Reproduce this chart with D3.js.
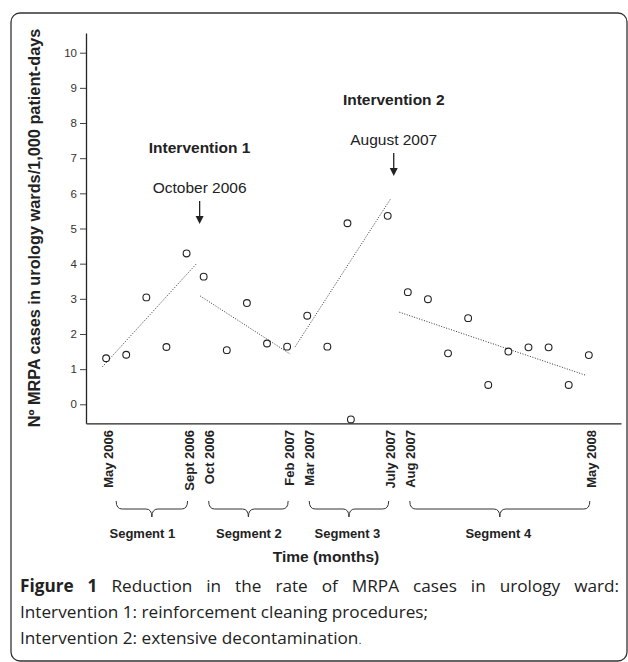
<!DOCTYPE html>
<html>
<head>
<meta charset="utf-8">
<script src="https://cdn.jsdelivr.net/npm/d3@7"></script>
<style>
  body { margin: 0; background: #fff; }
  svg { display: block; }
</style>
</head>
<body>
<svg width="628" height="662"></svg>
<script>
// month index from May 2006 (0) and MRPA rate per 1,000 patient-days
const months = [0, 1, 2, 3, 4, 4.85, 6, 7, 8, 9, 10, 11, 12, 12.17, 14, 15, 16, 17, 18, 19, 20, 21, 22, 23, 24];
const rates = [1.31, 1.41, 3.04, 1.63, 4.29, 3.63, 1.54, 2.88, 1.73, 1.64, 2.52, 1.64, 5.15, -0.43, 5.36,
               3.19, 2.99, 1.45, 2.45, 0.55, 1.50, 1.62, 1.62, 0.55, 1.40];

const yTicks = [0, 1, 2, 3, 4, 5, 6, 7, 8, 9, 10];

const dateLabels = ['May 2006', 'Sept 2006', 'Oct 2006', 'Feb 2007', 'Mar 2007', 'July 2007', 'Aug 2007', 'May 2008'];
const dateIdx = [0, 4, 5, 9, 10, 14, 15, 24];

const segNames = ['Segment 1', 'Segment 2', 'Segment 3', 'Segment 4'];
const segStart = [0.4, 5, 10, 15];
const segEnd = [4, 9, 14, 24];

// fitted trend per segment: [x1, y1, x2, y2]
const trends = [
  [-0.18, 1.07, 4.51, 4.01],
  [4.68, 3.08, 9.15, 1.43],
  [9.4, 1.64, 14.13, 5.83],
  [14.58, 2.62, 23.83, 0.83]
];

const interventions = ['Intervention 1', 'Intervention 2'];
const interventionDates = ['October 2006', 'August 2007'];
const interventionIdx = [4.65, 14.3];

var svg = d3.select('svg');
const ink = '#222';
const chartFont = 'Liberation Sans, Arial, sans-serif';

svg.append('rect')
  .attr('x', 11).attr('y', 13)
  .attr('width', 616).attr('height', 648)
  .attr('rx', 9)
  .attr('fill', 'none')
  .attr('stroke', '#333')
  .attr('stroke-width', 1.3);

var x = d3.scaleLinear().domain([-1, 25.6]).range([86, 621]);
var y = d3.scaleLinear().domain([-0.54, 10.56]).range([423.3, 33]);

const yAxis = svg.append('g')
  .attr('transform', 'translate(86,0)')
  .call(d3.axisLeft(y).tickValues(yTicks).tickSize(6).tickSizeOuter(0).tickPadding(3));
yAxis.select('.domain').attr('stroke', ink).attr('stroke-width', 1.3);
yAxis.selectAll('.tick line').attr('stroke', '#444');
yAxis.selectAll('.tick text')
  .attr('fill', '#333')
  .style('font-family', chartFont)
  .style('font-size', '11.5px');

const xAxis = svg.append('g')
  .attr('transform', `translate(0,${y.range()[0]})`)
  .call(d3.axisBottom(x).tickValues([]).tickSizeOuter(0));
xAxis.select('.domain').attr('stroke', ink).attr('stroke-width', 1.3);

// y title
svg.append('text')
  .attr('transform', 'translate(40,228) rotate(-90)')
  .attr('text-anchor', 'middle')
  .attr('fill', ink)
  .style('font-family', chartFont)
  .style('font-size', '16.3px')
  .style('font-weight', 'bold')
  .text('Nº MRPA cases in urology wards/1,000 patient-days');

// trend lines
svg.selectAll('.trend').data(trends)
  .enter().append('line')
  .attr('class', 'trend')
  .attr('x1', d => x(d[0])).attr('y1', d => y(d[1]))
  .attr('x2', d => x(d[2])).attr('y2', d => y(d[3]))
  .attr('stroke', '#333')
  .attr('stroke-width', 1)
  .attr('stroke-dasharray', '1,1.6');

// points
svg.selectAll('.dot').data(months)
  .enter().append('circle')
  .attr('class', 'dot')
  .attr('cx', d => x(d))
  .attr('cy', (d, i) => y(rates[i]))
  .attr('r', 3.4)
  .attr('fill', '#fff')
  .attr('stroke', ink)
  .attr('stroke-width', 1.1);

// interventions
const ann = svg.append('g')
  .style('font-family', chartFont)
  .attr('fill', ink);
const annTop = [153, 105];
interventions.forEach((name, i) => {
  const cx = x(interventionIdx[i]);
  ann.append('text')
    .attr('x', cx).attr('y', annTop[i])
    .attr('text-anchor', 'middle')
    .style('font-size', '15.5px').style('font-weight', 'bold')
    .text(name);
  ann.append('text')
    .attr('x', cx).attr('y', annTop[i] + 40)
    .attr('text-anchor', 'middle')
    .style('font-size', '15.5px')
    .text(interventionDates[i]);
  ann.append('line')
    .attr('x1', cx).attr('x2', cx)
    .attr('y1', annTop[i] + 48).attr('y2', annTop[i] + 64)
    .attr('stroke', ink).attr('stroke-width', 1.3);
  ann.append('path')
    .attr('d', `M${cx - 4},${annTop[i] + 63}L${cx + 4},${annTop[i] + 63}L${cx},${annTop[i] + 71}Z`)
    .attr('fill', ink);
});

// date labels under the axis
svg.selectAll('.date').data(dateLabels)
  .enter().append('text')
  .attr('class', 'date')
  .attr('transform', (d, i) => `translate(${x(dateIdx[i]) + 7},430) rotate(-90)`)
  .attr('text-anchor', 'end')
  .attr('fill', ink)
  .style('font-family', chartFont)
  .style('font-size', '13px')
  .style('font-weight', 'bold')
  .text(d => d);

// segment braces
const braceTop = 501, braceMid = 509, braceTip = 517;
svg.selectAll('.brace').data(segNames)
  .enter().append('path')
  .attr('class', 'brace')
  .attr('d', (d, i) => {
    const a = x(segStart[i]) + 2, b = x(segEnd[i]) + 1, m = (a + b) / 2;
    return `M${a},${braceTop}Q${a},${braceMid} ${a + 6},${braceMid}` +
      `L${m - 6},${braceMid}Q${m},${braceMid} ${m},${braceTip}` +
      `Q${m},${braceMid} ${m + 6},${braceMid}L${b - 6},${braceMid}` +
      `Q${b},${braceMid} ${b},${braceTop}`;
  })
  .attr('fill', 'none')
  .attr('stroke', '#333')
  .attr('stroke-width', 1);

const segShift = [-8, 2, 0, 0];
svg.selectAll('.seg').data(segNames)
  .enter().append('text')
  .attr('class', 'seg')
  .attr('x', (d, i) => (x(segStart[i]) + x(segEnd[i])) / 2 + segShift[i])
  .attr('y', 538)
  .attr('text-anchor', 'middle')
  .attr('fill', ink)
  .style('font-family', chartFont)
  .style('font-size', '13px')
  .style('font-weight', 'bold')
  .text(d => d);

svg.append('text')
  .attr('x', 326).attr('y', 562)
  .attr('text-anchor', 'middle')
  .attr('fill', ink)
  .style('font-family', chartFont)
  .style('font-size', '15.5px')
  .style('font-weight', 'bold')
  .text('Time (months)');

// caption, first line stretched to the frame width like justified text
const capFont = 'Open Sans, Noto Sans, sans-serif';
const l1 = svg.append('text')
  .attr('x', 20).attr('y', 592)
  .attr('fill', '#222')
  .style('font-family', capFont)
  .style('font-size', '17.2px')
  .style('word-spacing', '9.5px');
l1.append('tspan').style('font-weight', 'bold').text('Figure 1');
l1.append('tspan').text(' Reduction in the rate of MRPA cases in urology ward:');

const cap = svg.append('text')
  .attr('fill', '#222')
  .style('font-family', capFont)
  .style('font-size', '17.2px');
cap.append('tspan').attr('x', 20).attr('y', 618).text('Intervention 1: reinforcement cleaning procedures;');
cap.append('tspan').attr('x', 20).attr('y', 644).text('Intervention 2: extensive decontamination');
cap.append('tspan').style('font-family', chartFont).style('font-size', '11px').text('.');
</script>
</body>
</html>
